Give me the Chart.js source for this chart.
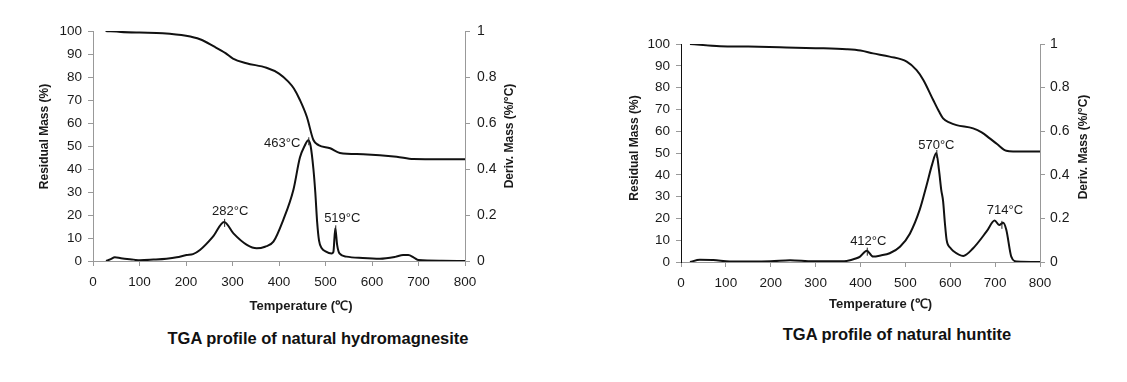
<!DOCTYPE html>
<html>
<head>
<meta charset="utf-8">
<script src="https://cdn.jsdelivr.net/npm/chart.js@4.4.0/dist/chart.umd.min.js"></script>
<style>
  body { margin: 0; background: #fff; width: 1127px; height: 382px; position: relative; overflow: hidden; font-family: "Liberation Sans", Arial, sans-serif; }
  canvas { position: absolute; top: 0; }
  .caption { position: absolute; width: 400px; text-align: center; font-weight: bold; font-size: 16.5px; line-height: 20px; color: #111; }
</style>
</head>
<body>
<canvas id="c1" width="560" height="320" style="left:0"></canvas>
<canvas id="c2" width="567" height="320" style="left:560px"></canvas>
<div class="caption" style="left:118px;top:328px">TGA profile of natural hydromagnesite</div>
<div class="caption" style="left:697px;top:324px">TGA profile of natural huntite</div>
<script>
// hydromagnesite - residual mass (%)
const hmMassT = [27, 60, 100, 150, 200, 230, 260, 285, 301, 330, 373, 400, 420, 432, 445, 460, 474, 485, 510, 531, 581, 653, 689, 750, 800];
const hmMass  = [100, 99.6, 99.3, 99, 97.9, 96.4, 93.3, 90.4, 88, 86, 84, 81.5, 78, 75, 70, 62.6, 52.6, 50.4, 49, 47, 46.4, 45.3, 44.3, 44.2, 44.2];
// hydromagnesite - deriv. mass (%/°C)
const hmDerivT = [28, 38, 47, 60, 87, 101, 130, 158, 180, 201, 215, 230, 258, 282, 302, 331, 352, 370, 388, 409, 431, 445, 455, 463, 468, 474, 478, 482, 486, 492, 500, 513, 517, 521, 525, 530, 545, 580, 617, 650, 667, 678, 690, 700, 750, 800];
const hmDeriv  = [0, 0.008, 0.016, 0.012, 0.006, 0.003, 0.006, 0.01, 0.016, 0.026, 0.03, 0.048, 0.106, 0.17, 0.12, 0.07, 0.055, 0.062, 0.084, 0.178, 0.31, 0.45, 0.5, 0.525, 0.5, 0.4, 0.3, 0.17, 0.09, 0.055, 0.042, 0.033, 0.04, 0.142, 0.07, 0.033, 0.019, 0.013, 0.01, 0.018, 0.026, 0.026, 0.015, 0.004, 0.001, 0];
const hmPeakT = [282, 463, 521];
const hmPeakD = [0.17, 0.525, 0.142];
const hmPeakText = ['282°C', '463°C', '519°C'];

// huntite - residual mass (%)
const huMassT = [20, 87, 150, 220, 300, 369, 400, 428, 465, 503, 525, 540, 562, 575, 584, 599, 614, 651, 670, 688, 705, 725, 740, 800];
const huMass  = [100, 99, 98.8, 98.5, 98.1, 97.6, 97, 95.7, 94.2, 91.9, 88, 83.5, 74.3, 69, 65.9, 63.9, 62.8, 61.3, 59.5, 56.7, 54, 51, 50.7, 50.7];
// huntite - deriv. mass (%/°C)
const huDerivT = [20, 42, 72, 109, 150, 200, 243, 294, 340, 369, 391, 399, 414, 428, 445, 465, 488, 510, 532, 547, 560, 569, 575, 580, 584, 588, 592, 600, 606, 629, 651, 681, 699, 709, 718, 725, 736, 748, 800];
const huDeriv  = [0, 0.01, 0.009, 0.002, 0.002, 0.003, 0.008, 0.003, 0.003, 0.005, 0.017, 0.025, 0.052, 0.025, 0.03, 0.04, 0.07, 0.13, 0.24, 0.35, 0.45, 0.5, 0.42, 0.33, 0.28, 0.18, 0.1, 0.065, 0.052, 0.028, 0.063, 0.14, 0.19, 0.17, 0.18, 0.147, 0.025, 0.002, 0];
const huPeakT = [414, 569, 714];
const huPeakD = [0.052, 0.5, 0.175];
const huPeakText = ['412°C', '570°C', '714°C'];

const tempTicks = [0, 100, 200, 300, 400, 500, 600, 700, 800];

const FONT = '"Liberation Sans", Arial, sans-serif';
const INK = '#1a1a1a';

const textPlugin = {
  id: 'texts',
  afterDraw(chart, args, opts) {
    const ctx = chart.ctx;
    const xs = chart.scales.x, ys = chart.scales.y1;
    ctx.save();
    ctx.fillStyle = INK;
    ctx.strokeStyle = '#222';
    ctx.lineWidth = 1;
    opts.peakT.forEach((t, i) => {
      const px = xs.getPixelForValue(t), py = ys.getPixelForValue(opts.peakD[i]);
      const off = opts.offsets[i];
      ctx.beginPath();
      ctx.moveTo(px + 0.5, py - 3);
      ctx.lineTo(px + 0.5, py + 5);
      ctx.stroke();
      ctx.font = '13px ' + FONT;
      ctx.textAlign = off[2] || 'center';
      ctx.textBaseline = 'middle';
      ctx.fillText(opts.peakText[i], px + off[0], py + off[1]);
    });
    // axis titles
    ctx.font = 'bold 12px ' + FONT;
    ctx.textAlign = 'center';
    ctx.textBaseline = 'middle';
    [[opts.leftTitle, 'Residual Mass (%)'], [opts.rightTitle, 'Deriv. Mass (%/°C)']].forEach(([p, txt]) => {
      ctx.save();
      ctx.translate(p[0], p[1]);
      ctx.rotate(-Math.PI / 2);
      ctx.fillText(txt, 0, 0);
      ctx.restore();
    });
    ctx.font = 'bold 13px ' + FONT;
    ctx.fillText('Temperature (℃)', opts.xTitle[0], opts.xTitle[1]);
    ctx.restore();
  }
};

function makeChart(id, massT, mass, derivT, deriv, g) {
  const line = (xs, ys, axis) => ({
    data: xs.map((t, i) => ({ x: t, y: ys[i] })),
    yAxisID: axis,
    borderColor: '#111',
    borderWidth: 2,
    pointRadius: 0,
    fill: false,
    cubicInterpolationMode: 'monotone'
  });
  return new Chart(document.getElementById(id), {
    type: 'line',
    data: { datasets: [line(massT, mass, 'y'), line(derivT, deriv, 'y1')] },
    options: {
      responsive: false,
      animation: false,
      layout: { padding: { top: g.top, left: 0, right: 0, bottom: 0 } },
      plugins: { legend: { display: false }, tooltip: { enabled: false }, texts: g.texts },
      scales: {
        x: {
          type: 'linear', min: 0, max: 800,
          afterBuildTicks: s => { s.ticks = tempTicks.map(v => ({ value: v })); },
          ticks: { color: INK, font: { size: 13.5, family: FONT }, padding: 8, maxRotation: 0 },
          grid: { drawOnChartArea: false, tickLength: 5, color: '#999' },
          border: { color: '#999' },
          afterFit: s => { s.height = g.xHeight; }
        },
        y: {
          position: 'left', min: 0, max: 100,
          ticks: { stepSize: 10, color: INK, font: { size: 13.5, family: FONT }, padding: 6 },
          grid: { drawOnChartArea: false, tickLength: 5, color: '#999' },
          border: { color: g.leftBorder },
          afterFit: s => { s.width = g.leftWidth; }
        },
        y1: {
          position: 'right', min: 0, max: 1,
          ticks: { stepSize: 0.2, color: INK, font: { size: 14, family: FONT }, padding: g.rightPad,
            callback: v => (v === 0 || v === 1) ? String(v) : v.toFixed(1) },
          grid: { drawOnChartArea: false, tickLength: 5, color: '#999' },
          border: { color: '#999' },
          afterFit: s => { s.width = g.rightWidth; }
        }
      }
    },
    plugins: [textPlugin]
  });
}

makeChart('c1', hmMassT, hmMass, hmDerivT, hmDeriv, {
  top: 31, xHeight: 59, leftWidth: 93, rightWidth: 95, rightPad: 7, leftBorder: '#999',
  texts: {
    peakT: hmPeakT, peakD: hmPeakD, peakText: hmPeakText,
    offsets: [[6, -10], [-8, 3, 'right'], [7, -10]],
    leftTitle: [44.5, 136.5], rightTitle: [510, 136], xTitle: [301, 306]
  }
});

makeChart('c2', huMassT, huMass, huDerivT, huDeriv, {
  top: 44, xHeight: 58, leftWidth: 121, rightWidth: 87, rightPad: 5, leftBorder: '#111',
  texts: {
    peakT: huPeakT, peakD: huPeakD, peakText: huPeakText,
    offsets: [[1.5, -9], [0, -8], [3.5, -13]],
    leftTitle: [75, 148], rightTitle: [524, 147], xTitle: [320.5, 304]
  }
});
</script>
</body>
</html>
